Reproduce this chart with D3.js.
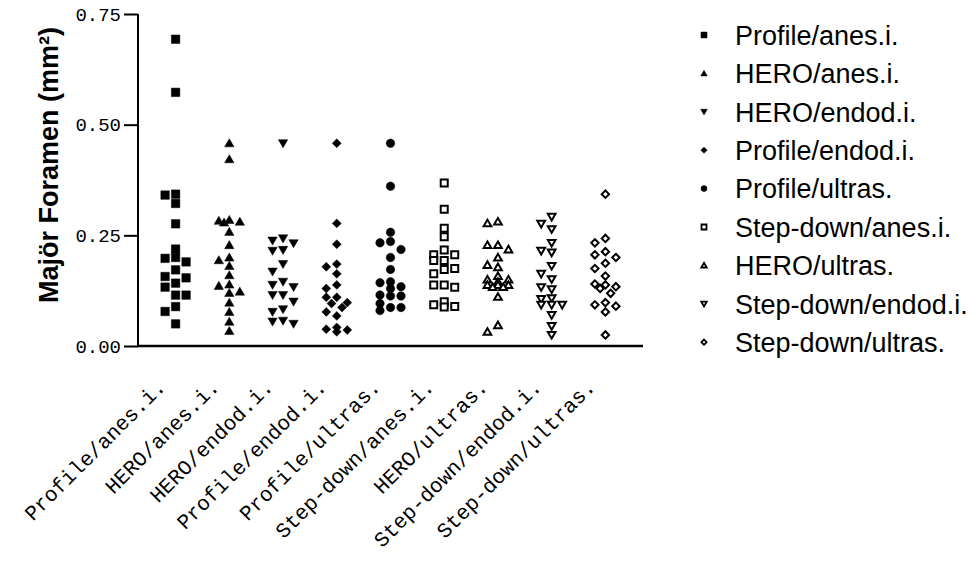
<!DOCTYPE html>
<html lang="en">
<head>
<meta charset="utf-8">
<title>Major Foramen</title>
<script src="https://d3js.org/d3.v7.min.js"></script>
<style>
    body { margin: 0; background-color: white; }
    svg { background-color: white; }
    .ytick text { font-family: "Liberation Mono", monospace; font-size: 19px; }
    .xlab { font-family: "Liberation Mono", monospace; font-size: 21px; }
    .legend text { font-family: "Liberation Sans", Arial, sans-serif; font-size: 27px; }
    .ytitle { font-family: "Liberation Sans", Arial, sans-serif; font-size: 27px; font-weight: bold; }
</style>
</head>
<body>
<script>
var width = 976,
    height = 562;

// groups, in axis order
var groups = ["Profile/anes.i.", "HERO/anes.i.", "HERO/endod.i.", "Profile/endod.i.", "Profile/ultras.",
              "Step-down/anes.i.", "HERO/ultras.", "Step-down/endod.i.", "Step-down/ultras."];

// values (mm^2)
var profileAnes   = [0.693, 0.573, 0.343, 0.341, 0.322, 0.276, 0.219, 0.200, 0.198, 0.190, 0.172, 0.157, 0.154, 0.142, 0.133, 0.115, 0.115, 0.089, 0.078, 0.050];
var heroAnes      = [0.458, 0.422, 0.285, 0.283, 0.281, 0.279, 0.258, 0.228, 0.200, 0.194, 0.181, 0.160, 0.139, 0.136, 0.123, 0.120, 0.098, 0.077, 0.055, 0.034];
var heroEndod     = [0.458, 0.243, 0.238, 0.232, 0.217, 0.215, 0.185, 0.168, 0.145, 0.138, 0.133, 0.115, 0.115, 0.100, 0.083, 0.077, 0.057, 0.055, 0.050];
var profileEndod  = [0.458, 0.277, 0.230, 0.185, 0.179, 0.163, 0.138, 0.130, 0.110, 0.110, 0.098, 0.096, 0.087, 0.077, 0.068, 0.042, 0.038, 0.036, 0.032];
var profileUltras = [0.458, 0.361, 0.257, 0.236, 0.233, 0.218, 0.200, 0.173, 0.145, 0.143, 0.134, 0.130, 0.115, 0.113, 0.113, 0.096, 0.087, 0.087, 0.080];
var stepAnes      = [0.368, 0.309, 0.266, 0.247, 0.217, 0.206, 0.206, 0.193, 0.193, 0.175, 0.173, 0.163, 0.138, 0.138, 0.133, 0.100, 0.093, 0.089, 0.088];
var heroUltras    = [0.281, 0.277, 0.228, 0.228, 0.218, 0.200, 0.183, 0.178, 0.158, 0.150, 0.150, 0.145, 0.138, 0.138, 0.138, 0.133, 0.133, 0.111, 0.047, 0.032];
var stepEndod     = [0.292, 0.276, 0.264, 0.233, 0.215, 0.211, 0.181, 0.163, 0.151, 0.133, 0.128, 0.108, 0.106, 0.093, 0.093, 0.093, 0.070, 0.045, 0.025];
var stepUltras    = [0.343, 0.243, 0.233, 0.213, 0.206, 0.200, 0.187, 0.175, 0.158, 0.140, 0.138, 0.134, 0.130, 0.119, 0.098, 0.093, 0.090, 0.077, 0.025];

var yTicks = [0, 0.25, 0.5, 0.75];

var seriesValues = [profileAnes, heroAnes, heroEndod, profileEndod, profileUltras, stepAnes, heroUltras, stepEndod, stepUltras];
// marker shape and fill for each group
var shapes = ["square", "triangle", "triangleDown", "diamond", "circle", "square", "triangle", "triangleDown", "diamond"];
var filled = [true, true, true, true, true, false, false, false, false];

var svg = d3.select("body").append("svg")
    .attr("width", width)
    .attr("height", height);

var x = d3.scalePoint()
    .domain(groups)
    .range([138, 643])
    .padding(0.7);

var y = d3.scaleLinear()
    .domain([0, 0.75])
    .range([346, 14]);

// y axis
var yAxis = svg.append("g")
    .attr("class", "ytick")
    .attr("transform", "translate(138,0)")
    .call(d3.axisLeft(y).tickValues(yTicks).tickFormat(d3.format(".2f")).tickSize(14).tickPadding(3));
yAxis.selectAll("line, path").attr("stroke", "black").attr("stroke-width", 2);
yAxis.select(".domain").attr("d", "M0," + y(0.75) + "V" + y(0));
yAxis.selectAll("text").attr("fill", "black");

// x axis line
svg.append("line")
    .attr("x1", 137).attr("x2", 643)
    .attr("y1", y(0)).attr("y2", y(0))
    .attr("stroke", "black").attr("stroke-width", 2.5);

// rotated group labels
svg.selectAll(".xlab")
    .data(groups)
    .enter()
    .append("text")
    .attr("class", "xlab")
    .attr("text-anchor", "end")
    .attr("transform", function(d) { return "translate(" + (x(d) - 9) + "," + (y(0) + 42) + ") rotate(-45)"; })
    .text(function(d) { return d; });

// y title
svg.append("text")
    .attr("class", "ytitle")
    .attr("text-anchor", "middle")
    .attr("transform", "translate(58,165) rotate(-90)")
    .text("Majör Foramen (mm²)");

function symbolPath(shape, s) {
    var h = s / 2;
    if (shape == "square") return "M" + (-h) + "," + (-h) + "h" + s + "v" + s + "h" + (-s) + "Z";
    if (shape == "triangle") return "M0," + (-h * 1.05) + "L" + (h * 1.1) + "," + (h * 0.85) + "L" + (-h * 1.1) + "," + (h * 0.85) + "Z";
    if (shape == "triangleDown") return "M0," + (h * 1.05) + "L" + (h * 1.1) + "," + (-h * 0.85) + "L" + (-h * 1.1) + "," + (-h * 0.85) + "Z";
    if (shape == "diamond") return "M0," + (-h * 1.05) + "L" + (h * 1.05) + ",0L0," + (h * 1.05) + "L" + (-h * 1.05) + ",0Z";
    return d3.symbol().type(d3.symbolCircle).size(Math.PI * h * h)();
}

// simple column scatter: spread overlapping points sideways, at most one slot each way
var slot = 10.5;
function spread(values) {
    var placed = [];
    var order = values.slice().sort(function(a, b) { return d3.descending(a, b); });
    var tries = [0, -1, 1, -0.5, 0.5];
    order.forEach(function(v) {
        var py = y(v);
        var best = null, bestCost = Infinity;
        for (var t = 0; t < tries.length; t++) {
            var dx = tries[t] * slot;
            var cost = 0;
            placed.forEach(function(p) {
                var ox = 9 - Math.abs(p.dx - dx), oy = 8 - Math.abs(p.y - py);
                if (ox > 0 && oy > 0) cost += ox * oy;
            });
            if (cost < bestCost - 1e-9) { bestCost = cost; best = dx; }
            if (cost == 0) break;
        }
        placed.push({ v: v, y: py, dx: best });
    });
    return placed;
}

groups.forEach(function(g, i) {
    var pts = spread(seriesValues[i]);
    var open = !filled[i];
    svg.append("g")
        .attr("class", "series")
        .selectAll("path")
        .data(pts)
        .enter()
        .append("path")
        .attr("d", symbolPath(shapes[i], open ? 7 : 8.5))
        .attr("transform", function(d) { return "translate(" + (x(g) + d.dx) + "," + d.y + ")"; })
        .attr("fill", open ? "white" : "black")
        .attr("stroke", "black")
        .attr("stroke-width", open ? 2 : 0.5);
});

// legend
var legend = svg.append("g").attr("class", "legend");
var rows = legend.selectAll("g")
    .data(groups)
    .enter()
    .append("g")
    .attr("transform", function(d, i) { return "translate(704," + (35 + i * 38.4) + ")"; });
rows.append("path")
    .attr("d", function(d, i) { return symbolPath(shapes[i], filled[i] ? 6 : 5); })
    .attr("fill", function(d, i) { return filled[i] ? "black" : "white"; })
    .attr("stroke", "black")
    .attr("stroke-width", function(d, i) { return filled[i] ? 0.5 : 1.8; });
rows.append("text")
    .attr("x", 31)
    .attr("dy", "0.36em")
    .text(function(d) { return d; });
</script>
</body>
</html>
